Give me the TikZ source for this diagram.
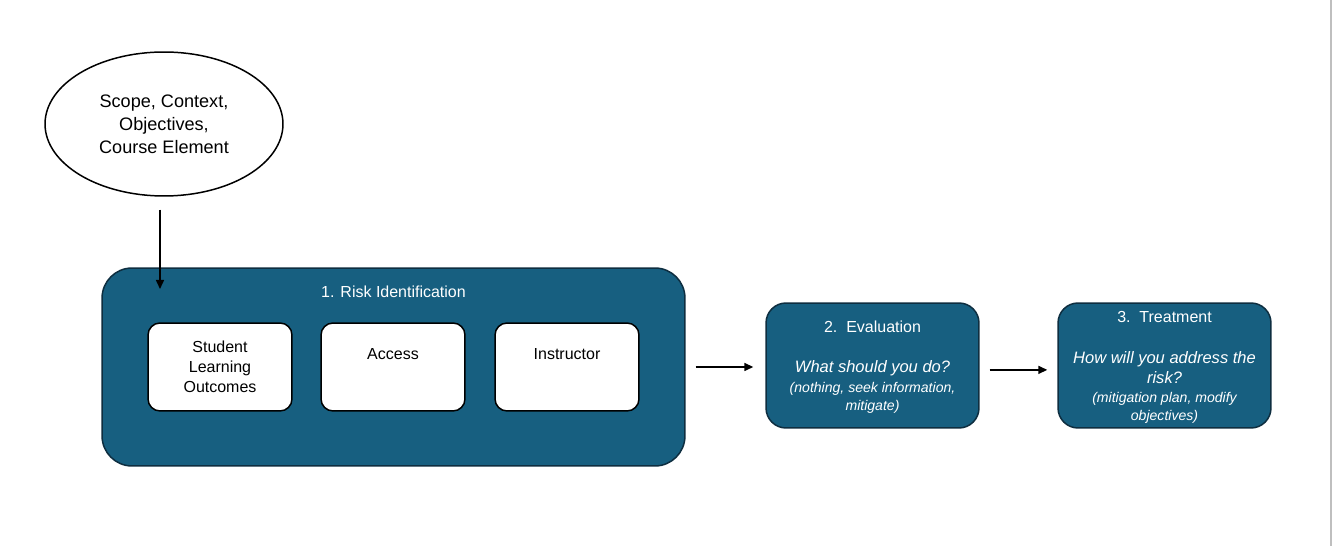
\documentclass[tikz,border=0pt]{standalone}
\usepackage{fontspec}
\setmainfont{Liberation Sans}
\usetikzlibrary{arrows.meta,shapes.geometric}
\definecolor{riskblue}{RGB}{23,95,128}
\definecolor{riskedge}{RGB}{14,46,64}
\newcommand\bigsize{\fontsize{10.3}{13.1}\selectfont}
\newcommand\mainsize{\fontsize{9.1}{11.34}\selectfont}
\newcommand\questsize{\fontsize{9.4}{11.34}\selectfont}
\newcommand\smallsize{\fontsize{8}{10.2}\selectfont}
\tikzset{
  bluebox/.style={draw=riskedge, fill=riskblue, line width=0.85pt, inner sep=0pt},
  whitebox/.style={draw=black, fill=white, line width=0.85pt, rounded corners=0.24cm,
    minimum width=2.88cm, minimum height=1.76cm, inner sep=0pt, align=center, font=\mainsize},
  bluetext/.style={text=white, align=center, inner sep=0pt},
  arrowline/.style={line width=0.85pt, -{Triangle[length=0.18cm,width=0.16cm]}},
}
\begin{document}
\begin{tikzpicture}[x=0.02cm, y=-0.02cm]
\useasboundingbox (0,0) rectangle (1332,546);
\fill[white] (0,0) rectangle (1332,546);
\draw[black!25, line width=0.8pt] (1331,0) -- (1331,546);
% scope ellipse
\node[ellipse, draw, line width=0.85pt, minimum width=4.76cm, minimum height=2.88cm, inner sep=0pt,
  align=center, font=\bigsize] (scope) at (164,124) {Scope, Context,\\Objectives,\\Course Element};
\coordinate (entry) at (160,289);
% 1. risk identification
\node[bluebox, rounded corners=0.6cm, minimum width=11.66cm, minimum height=3.96cm] (risk) at (393.5,367) {};
\node[bluetext, font=\mainsize] (risktitle) at (393.5,292) {1. Risk Identification};
\node[whitebox] (slo) at (220,367) {Student\\Learning\\Outcomes};
\node[whitebox] (access) at (393,367) {Access\\\strut};
\node[whitebox] (instructor) at (567,367) {Instructor\\\strut};
% 2. evaluation
\node[bluebox, rounded corners=0.4cm, minimum width=4.26cm, minimum height=2.5cm] (eval) at (872.5,365.5) {};
\node[bluetext, font=\mainsize] (evaltitle) at (872.5,327) {2.\ \ Evaluation};
\node[bluetext, font=\questsize\itshape] (evalquest) at (872.5,368) {What should you do?};
\node[bluetext, font=\smallsize\itshape] (evalnote) at (872.5,397.5) {(nothing, seek information,\\mitigate)};
% 3. treatment
\node[bluebox, rounded corners=0.4cm, minimum width=4.26cm, minimum height=2.5cm] (treat) at (1164.5,365.5) {};
\node[bluetext, font=\mainsize] (treattitle) at (1164.5,317) {3.\ \ Treatment};
\node[bluetext, font=\questsize\itshape] (treatquest) at (1164.5,368) {How will you address the\\risk?};
\node[bluetext, font=\smallsize\itshape] (treatnote) at (1164.5,407.5) {(mitigation plan, modify\\objectives)};
% connectors
\draw[arrowline, shorten <=0.26cm] (scope.south -| entry) -- (entry);
\draw[arrowline, shorten <=0.2cm, shorten >=0.24cm] (risk.east) -- (eval.west |- risk.east);
\draw[arrowline, shorten <=0.2cm, shorten >=0.2cm] ([yshift=-2.5]eval.east) -- ([yshift=-2.5]treat.west);
\end{tikzpicture}
\end{document}
